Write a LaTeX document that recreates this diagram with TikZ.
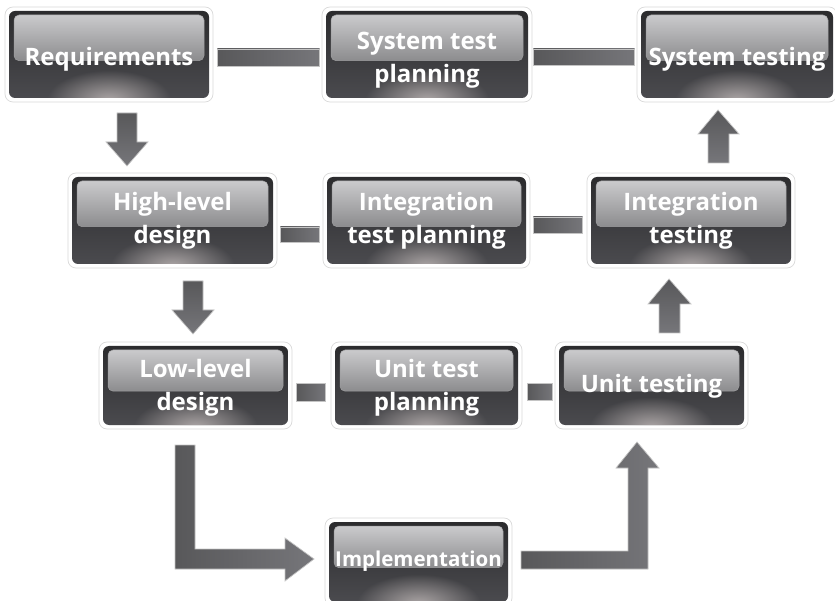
\documentclass[tikz,border=0pt]{standalone}
\usepackage{fontspec}
\setmainfont{Open Sans}
\usetikzlibrary{calc,fadings}
\tikzfading[name=glowfade, inner color=transparent!0, outer color=transparent!100]
\definecolor{dtop}{HTML}{2A2A2C}
\definecolor{dbot}{HTML}{4C4C50}
\definecolor{glow}{HTML}{ACA6A6}
\definecolor{ptop}{HTML}{CACACC}
\definecolor{pbot}{HTML}{8C8C8E}
\definecolor{pedge}{HTML}{A0A0A2}
\definecolor{outer}{HTML}{DADADA}
\definecolor{arrA}{HTML}{58585A}
\definecolor{arrB}{HTML}{76767A}
\definecolor{arrEdge}{HTML}{C4C4C4}
\newcommand\tlines[2][0pt]{\raisebox{#1}[\height][\depth]{\begin{tabular}{@{}c@{}}#2\end{tabular}}}
\tikzset{
  stage/.style={rounded corners=8pt, draw=outer, line width=0.7pt, fill=white,
    inner sep=0pt, text=white,
    font=\bfseries\fontsize{24}{32.5}\selectfont,
    path picture={
      \coordinate (NW) at (path picture bounding box.north west);
      \coordinate (SE) at (path picture bounding box.south east);
      \coordinate (NE) at (SE |- NW);
      \coordinate (SW) at (NW |- SE);
      \begin{scope}
        \path[rounded corners=6pt, clip] ([shift={(4pt,-4pt)}]NW) rectangle ([shift={(-4pt,4pt)}]SE);
        \shade[top color=dtop, bottom color=dbot] (NW) rectangle (SE);
        \fill[glow, path fading=glowfade] ($(SW)!0.5!(SE)+(0pt,2pt)$) ellipse [x radius=62pt, y radius=30pt];
      \end{scope}
      \coordinate (PB) at ($(NE)!0.565!(SE)$);
      \shade[rounded corners=5pt, top color=ptop, bottom color=pbot, draw=pedge, line width=0.5pt]
        ([shift={(9pt,-8pt)}]NW) rectangle ([xshift=-9pt]PB);
    }},
  bar/.style={left color=arrA, right color=arrB, draw=arrEdge, line width=0.6pt},
  blockv/.style={top color=arrA, bottom color=arrB, draw=arrEdge, line width=0.7pt},
  blockh/.style={left color=arrA, right color=arrB, draw=arrEdge, line width=0.7pt}
}
\begin{document}
\begin{tikzpicture}[x=1pt,y=-1pt]
\useasboundingbox (0,0) rectangle (835,601);
\clip (0,0) rectangle (835,601);
\fill[white] (0,0) rectangle (835,601);

% row 1
\node[stage, minimum width=208pt, minimum height=95pt] (req) at (109,54.5) {\tlines[-5pt]{Requirements}};
\node[stage, minimum width=210pt, minimum height=95pt] (stp) at (427,54.5) {\tlines[-5pt]{System test\\planning}};
\node[stage, minimum width=200pt, minimum height=95pt] (st) at (737,54.5) {\tlines[-5pt]{System testing}};
% row 2
\node[stage, minimum width=209pt, minimum height=95pt] (hld) at (172.5,220.5) {\tlines[0pt]{High-level\\design}};
\node[stage, minimum width=207pt, minimum height=95pt] (itp) at (426.5,220.5) {\tlines[0pt]{Integration\\test planning}};
\node[stage, minimum width=208pt, minimum height=95pt] (it) at (691,220.5) {\tlines[0pt]{Integration\\testing}};
% row 3
\node[stage, minimum width=193pt, minimum height=87pt] (lld) at (195.5,385.5) {\tlines[-2pt]{Low-level\\design}};
\node[stage, minimum width=191pt, minimum height=87pt] (utp) at (426.5,385.5) {\tlines[-2pt]{Unit test\\planning}};
\node[stage, minimum width=193pt, minimum height=87pt] (ut) at (651.5,385.5) {\tlines{Unit testing}};
% row 4
\node[stage, minimum width=187pt, minimum height=88pt, font=\bfseries\fontsize{20.5}{26}\selectfont] (impl) at (418.5,562) {\tlines[1pt]{Implementation}};

% horizontal bars
\path[bar] ([shift={(4pt,5.5pt)}]req.east) rectangle ([shift={(-2pt,-11.5pt)}]stp.west);
\path[bar] ([shift={(1pt,5.5pt)}]stp.east) rectangle ([shift={(-2pt,-10.5pt)}]st.west);
\path[bar] ([shift={(3pt,-6.5pt)}]hld.east) rectangle ([shift={(-3pt,-21.5pt)}]itp.west);
\path[bar] ([shift={(3pt,3.5pt)}]itp.east) rectangle ([shift={(-4pt,-12.5pt)}]it.west);
\path[bar] ([shift={(4pt,2.5pt)}]lld.east) rectangle ([shift={(-5pt,-15.5pt)}]utp.west);
\path[bar] ([shift={(5pt,2.5pt)}]utp.east) rectangle ([shift={(-2pt,-14.5pt)}]ut.west);

% block arrows
\path[blockv] (117,113) -- (137,113) -- (137,142) -- (148,142) -- (127,166) -- (106,142) -- (117,142) -- cycle;
\path[blockv] (183,281) -- (203,281) -- (203,310) -- (214,310) -- (193,334) -- (172,310) -- (183,310) -- cycle;
\path[blockv] (708,163) -- (729,163) -- (729,134) -- (739,134) -- (718,110) -- (698,134) -- (708,134) -- cycle;
\path[blockv] (659,333) -- (680,333) -- (680,304) -- (691,304) -- (669,279) -- (648,304) -- (659,304) -- cycle;
\path[blockh] (175,445) -- (195,445) -- (195,549) -- (285,549) -- (285,538) -- (314,559) -- (285,581) -- (285,569) -- (175,569) -- cycle;
\path[blockh] (521,551) -- (628,551) -- (628,468) -- (616,468) -- (637,442) -- (659,468) -- (648,468) -- (648,569) -- (521,569) -- cycle;
\end{tikzpicture}
\end{document}
